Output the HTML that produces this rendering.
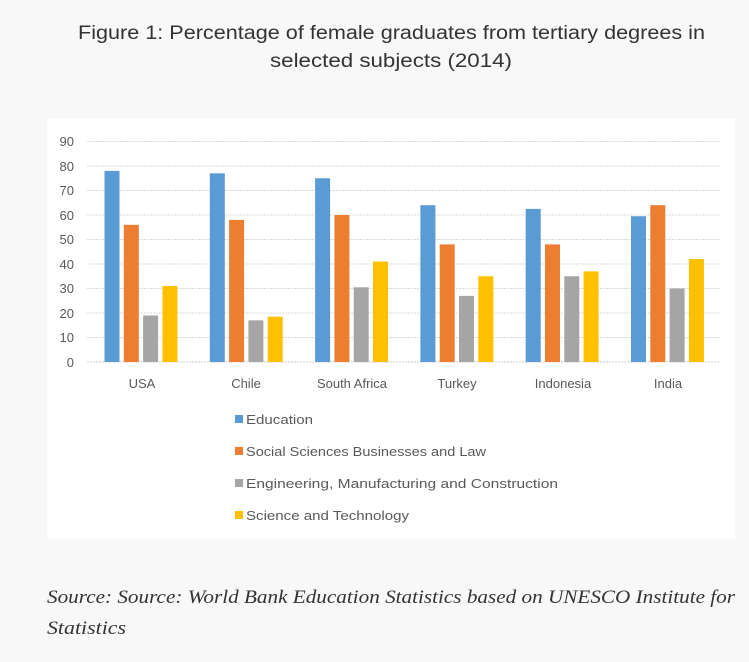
<!DOCTYPE html>
<html><head><meta charset="utf-8"><style>
body{margin:0;background:#f8f8f8;width:749px;height:662px;overflow:hidden;font-family:"Liberation Sans",sans-serif}
</style></head><body>
<svg width="749" height="662" xmlns="http://www.w3.org/2000/svg" style="position:absolute;left:0;top:0">
<text x="78" y="39" textLength="627" lengthAdjust="spacingAndGlyphs" font-size="19" fill="#333" font-family="Liberation Sans, sans-serif">Figure 1: Percentage of female graduates from tertiary degrees in</text>
<text x="270" y="67" textLength="242" lengthAdjust="spacingAndGlyphs" font-size="19" fill="#333" font-family="Liberation Sans, sans-serif">selected subjects (2014)</text>
<rect x="47" y="118" width="688" height="421" fill="#fff"/>
<g stroke="#d9d9d9" stroke-width="1" stroke-dasharray="2,1">
<line x1="87" x2="720" y1="141.5" y2="141.5"/><line x1="87" x2="720" y1="166" y2="166"/><line x1="87" x2="720" y1="190.5" y2="190.5"/><line x1="87" x2="720" y1="215" y2="215"/><line x1="87" x2="720" y1="239.5" y2="239.5"/><line x1="87" x2="720" y1="264" y2="264"/><line x1="87" x2="720" y1="288.5" y2="288.5"/><line x1="87" x2="720" y1="313" y2="313"/><line x1="87" x2="720" y1="337.5" y2="337.5"/><line x1="87" x2="720" y1="362" y2="362" stroke="#ccc"/>
</g>
<g font-size="13" fill="#595959" text-anchor="end">
<text x="74" y="146">90</text><text x="74" y="171">80</text><text x="74" y="195">70</text><text x="74" y="220">60</text><text x="74" y="244">50</text><text x="74" y="269">40</text><text x="74" y="293">30</text><text x="74" y="318">20</text><text x="74" y="342">10</text><text x="74" y="367">0</text>
</g>
<g id="bars"></g>
<g font-size="13" fill="#595959" text-anchor="middle">
<text x="142" y="388">USA</text><text x="246" y="388">Chile</text><text x="352" y="388">South Africa</text><text x="457" y="388">Turkey</text><text x="563" y="388">Indonesia</text><text x="668" y="388">India</text>
</g>
<g font-size="13" fill="#595959">
<rect x="235" y="415" width="8" height="8" fill="#5b9bd5"/><text x="246" y="424" textLength="67" lengthAdjust="spacingAndGlyphs">Education</text>
<rect x="235" y="447" width="8" height="8" fill="#ed7d31"/><text x="246" y="456" textLength="240" lengthAdjust="spacingAndGlyphs">Social Sciences Businesses and Law</text>
<rect x="235" y="479" width="8" height="8" fill="#a5a5a5"/><text x="246" y="488" textLength="312" lengthAdjust="spacingAndGlyphs">Engineering, Manufacturing and Construction</text>
<rect x="235" y="511" width="8" height="8" fill="#ffc000"/><text x="246" y="520" textLength="163" lengthAdjust="spacingAndGlyphs">Science and Technology</text>
</g>
<g font-family="Liberation Serif, serif" font-style="italic" font-size="19" fill="#333">
<text x="47" y="603" textLength="688" lengthAdjust="spacingAndGlyphs">Source: Source: World Bank Education Statistics based on UNESCO Institute for</text>
<text x="47" y="634" textLength="79" lengthAdjust="spacingAndGlyphs">Statistics</text>
</g>
</svg>
<script>
var d=[[78,56,19,31],[77,58,17,18.5],[75,60,30.5,41],[64,48,27,35],[62.5,48,35,37],[59.5,64,30,42]];
var c=["#5b9bd5","#ed7d31","#a5a5a5","#ffc000"];var g=document.getElementById("bars");var s="";
for(var i=0;i<6;i++){var x0=104.5+i*105.3;for(var j=0;j<4;j++){var h=d[i][j]*2.45;s+='<rect x="'+(x0+j*19.3)+'" y="'+(362-h)+'" width="15" height="'+h+'" fill="'+c[j]+'"/>';}}
g.innerHTML=s;
</script>
</body></html>
